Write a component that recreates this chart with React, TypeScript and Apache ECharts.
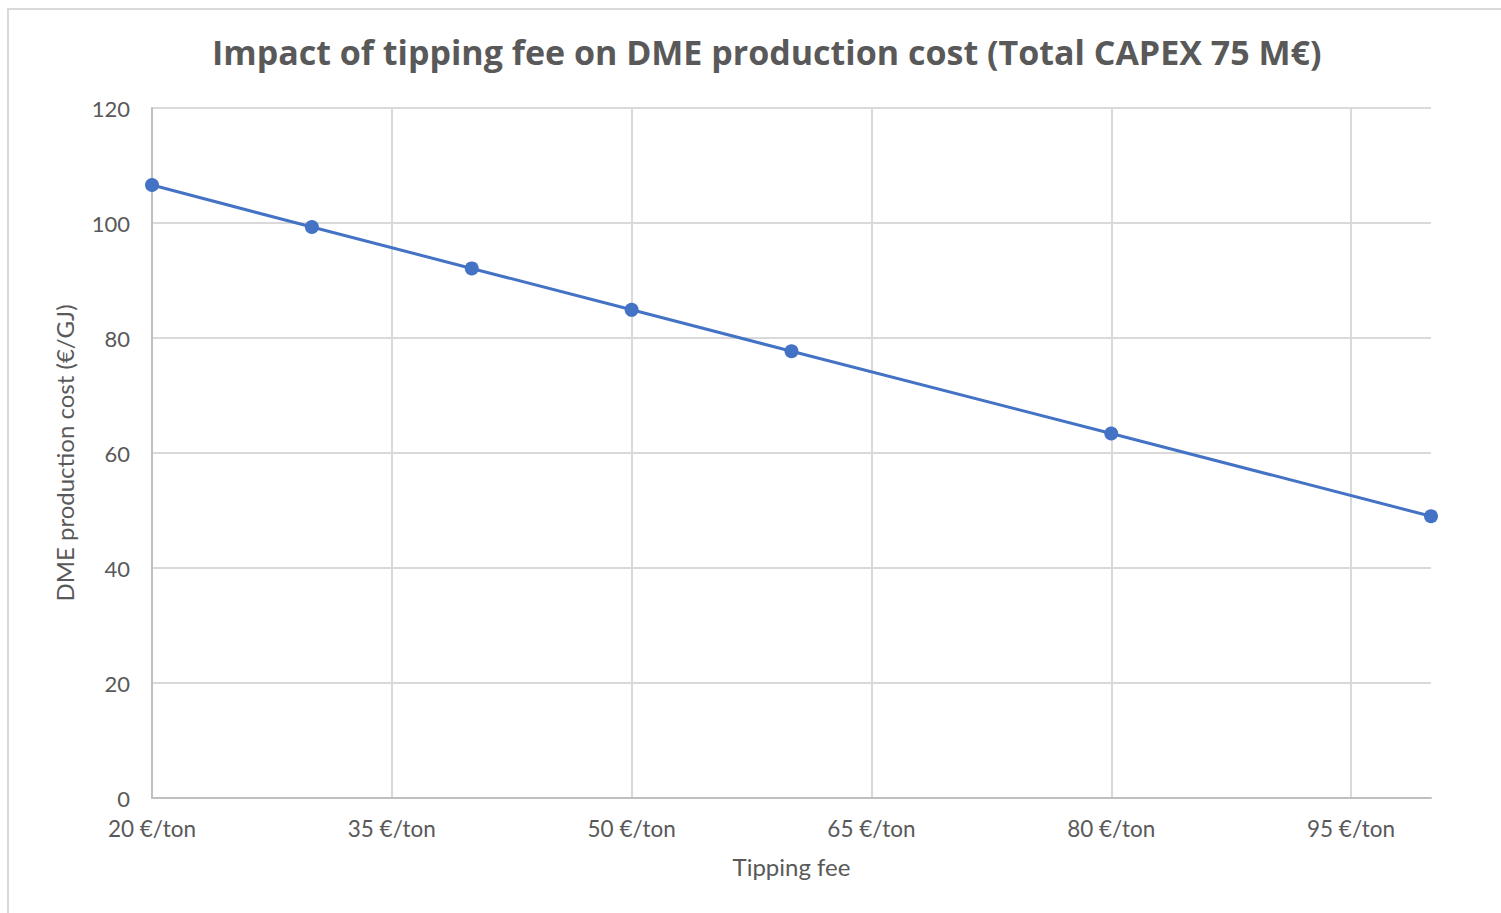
import React, { useEffect, useRef } from "react";
import * as echarts from "echarts";

const TITLE = "Impact of tipping fee on DME production cost (Total CAPEX 75 M€)";
const X_NAME = "Tipping fee";
const Y_NAME = "DME production cost (€/GJ)";
const tippingFees = [20, 30, 40, 50, 60, 80, 100];
const productionCost = [106.6, 99.3, 92.1, 84.9, 77.7, 63.4, 49.0];
const X_MIN = 20;
const X_MAX = 100;
const X_STEP = 15;
const Y_MIN = 0;
const Y_MAX = 120;
const Y_STEP = 20;

export default function App() {
  const ref = useRef<HTMLDivElement>(null);
  useEffect(() => {
    if (!ref.current) return;
    const chart = echarts.init(ref.current, null, { renderer: "svg" });
    const labelFont = "Lato, 'Open Sans', sans-serif";
    chart.setOption({
      animation: false,
      backgroundColor: "#ffffff",
      title: {
        text: TITLE,
        left: 207,
        top: 30,
        textStyle: {
          fontFamily: "'Open Sans', sans-serif",
          fontWeight: "bold",
          fontSize: 34,
          color: "#595959",
        },
      },
      graphic: [
        {
          type: "rect",
          shape: { x: 8, y: 9, width: 1600, height: 1000 },
          style: { fill: "none", stroke: "#d9d9d9", lineWidth: 2 },
          silent: true,
          z: -10,
        },
      ],
      grid: { left: 152, right: 70, top: 108, bottom: 115, containLabel: false },
      xAxis: {
        type: "value",
        min: 0,
        max: X_MAX - X_MIN,
        interval: X_STEP,
        name: X_NAME,
        nameLocation: "middle",
        nameGap: 56,
        nameTextStyle: { fontFamily: labelFont, fontSize: 24, color: "#595959" },
        axisLine: { show: true, lineStyle: { color: "#bfbfbf", width: 2 } },
        axisTick: { show: false },
        axisLabel: {
          margin: 19,
          fontFamily: labelFont,
          fontSize: 22.5,
          color: "#595959",
          showMaxLabel: false,
          formatter: (v: number) => `${v + X_MIN} €/ton`,
        },
        splitLine: { show: true, showMaxLine: false, lineStyle: { color: "#d9d9d9", width: 2 } },
      },
      yAxis: {
        type: "value",
        min: Y_MIN,
        max: Y_MAX,
        interval: Y_STEP,
        name: Y_NAME,
        nameLocation: "middle",
        nameGap: 76,
        nameTextStyle: { fontFamily: labelFont, fontSize: 24, color: "#595959" },
        axisLine: { show: true, lineStyle: { color: "#bfbfbf", width: 2 } },
        axisTick: { show: false },
        axisLabel: { margin: 22, fontFamily: labelFont, fontSize: 22, color: "#595959" },
        splitLine: { show: true, lineStyle: { color: "#d9d9d9", width: 2 } },
      },
      series: [
        {
          type: "line",
          data: tippingFees.map((f, i) => [f - X_MIN, productionCost[i]]),
          symbol: "circle",
          symbolSize: 14,
          lineStyle: { color: "#4472c4", width: 3 },
          itemStyle: { color: "#4472c4" },
          clip: false,
        },
      ],
    });
    return () => chart.dispose();
  }, []);
  return (
    <div
      ref={ref}
      style={{ position: "absolute", left: 0, top: 0, width: 1501, height: 913 }}
    />
  );
}
